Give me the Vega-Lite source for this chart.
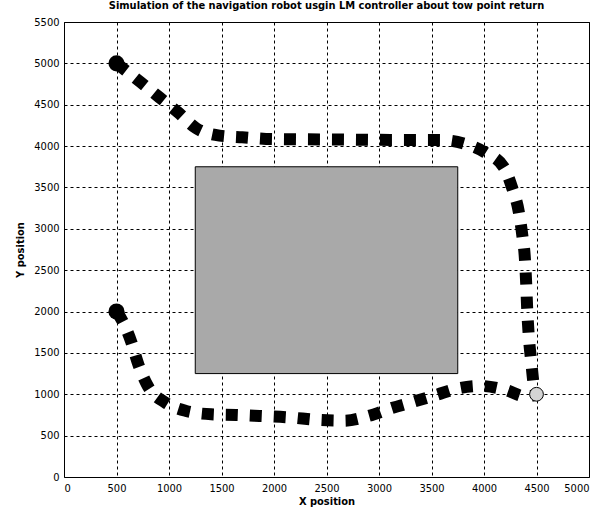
{
  "$schema": "https://vega.github.io/schema/vega-lite/v6.json",
  "width": 525,
  "height": 455,
  "autosize": {"type": "none"},
  "padding": {"left": 64, "top": 22, "right": 18, "bottom": 35},
  "background": "white",
  "title": {
    "text": "Simulation of the navigation robot usgin LM controller about tow point return",
    "font": "Liberation Sans Narrow, DejaVu Sans Condensed, sans-serif",
    "fontSize": 11,
    "fontWeight": "bold",
    "color": "black",
    "offset": 5
  },
  "config": {
    "view": {"stroke": "black", "strokeWidth": 1},
    "axis": {
      "labelFont": "Liberation Sans Narrow, DejaVu Sans Condensed, sans-serif",
      "labelFontSize": 11,
      "labelColor": "black",
      "titleFont": "Liberation Sans Narrow, DejaVu Sans Condensed, sans-serif",
      "titleFontSize": 11,
      "titleFontWeight": "bold",
      "titleColor": "black",
      "domain": false,
      "ticks": false,
      "grid": true,
      "gridColor": "black",
      "gridOpacity": 1,
      "gridDash": [3, 3],
      "gridWidth": 1,
      "labelPadding": 5
    }
  },
  "datasets": {
    "obstacle": [{"x0": 1250, "x1": 3750, "y0": 1250, "y1": 3750}],
    "paths": [
      {"path": "A", "i": 0, "x": 500, "y": 5000},
      {"path": "A", "i": 1, "x": 729, "y": 4773},
      {"path": "A", "i": 2, "x": 910, "y": 4587},
      {"path": "A", "i": 3, "x": 1084, "y": 4410},
      {"path": "A", "i": 4, "x": 1259, "y": 4216},
      {"path": "A", "i": 5, "x": 1481, "y": 4127},
      {"path": "A", "i": 6, "x": 1697, "y": 4107},
      {"path": "A", "i": 7, "x": 1925, "y": 4087},
      {"path": "A", "i": 8, "x": 2157, "y": 4083},
      {"path": "A", "i": 9, "x": 2617, "y": 4080},
      {"path": "A", "i": 10, "x": 3110, "y": 4075},
      {"path": "A", "i": 11, "x": 3576, "y": 4075},
      {"path": "A", "i": 12, "x": 3798, "y": 4035},
      {"path": "A", "i": 13, "x": 4014, "y": 3921},
      {"path": "A", "i": 14, "x": 4189, "y": 3745},
      {"path": "A", "i": 15, "x": 4269, "y": 3491},
      {"path": "A", "i": 16, "x": 4331, "y": 3208},
      {"path": "A", "i": 17, "x": 4365, "y": 2920},
      {"path": "A", "i": 18, "x": 4390, "y": 2630},
      {"path": "A", "i": 19, "x": 4402, "y": 2334},
      {"path": "A", "i": 20, "x": 4411, "y": 2040},
      {"path": "A", "i": 21, "x": 4427, "y": 1697},
      {"path": "A", "i": 22, "x": 4450, "y": 1394},
      {"path": "A", "i": 23, "x": 4474, "y": 1112},
      {"path": "A", "i": 24, "x": 4500, "y": 1000},
      {"path": "B", "i": 0, "x": 500, "y": 2000},
      {"path": "B", "i": 1, "x": 560, "y": 1878},
      {"path": "B", "i": 2, "x": 640, "y": 1636},
      {"path": "B", "i": 3, "x": 710, "y": 1354},
      {"path": "B", "i": 4, "x": 798, "y": 1100},
      {"path": "B", "i": 5, "x": 967, "y": 898},
      {"path": "B", "i": 6, "x": 1163, "y": 798},
      {"path": "B", "i": 7, "x": 1402, "y": 758},
      {"path": "B", "i": 8, "x": 1640, "y": 750},
      {"path": "B", "i": 9, "x": 1862, "y": 738},
      {"path": "B", "i": 10, "x": 2131, "y": 722},
      {"path": "B", "i": 11, "x": 2433, "y": 689},
      {"path": "B", "i": 12, "x": 2671, "y": 681},
      {"path": "B", "i": 13, "x": 2900, "y": 738},
      {"path": "B", "i": 14, "x": 3116, "y": 831},
      {"path": "B", "i": 15, "x": 3331, "y": 911},
      {"path": "B", "i": 16, "x": 3545, "y": 992},
      {"path": "B", "i": 17, "x": 3760, "y": 1073},
      {"path": "B", "i": 18, "x": 3973, "y": 1100},
      {"path": "B", "i": 19, "x": 4205, "y": 1052},
      {"path": "B", "i": 20, "x": 4402, "y": 971},
      {"path": "B", "i": 21, "x": 4500, "y": 1000}
    ],
    "starts": [
      {"x": 500, "y": 5000},
      {"x": 500, "y": 2000}
    ],
    "goal": [{"x": 4500, "y": 1000}]
  },
  "layer": [
    {
      "data": {"name": "obstacle"},
      "mark": {"type": "rect", "fill": "#a9a9a9", "stroke": "black", "strokeWidth": 1},
      "encoding": {
        "x": {"field": "x0", "type": "quantitative",
              "scale": {"domain": [0, 5000], "nice": false},
              "axis": {"values": [0,500,1000,1500,2000,2500,3000,3500,4000,4500,5000], "title": "X position", "titlePadding": 2, "format": "d"}},
        "x2": {"field": "x1"},
        "y": {"field": "y0", "type": "quantitative",
              "scale": {"domain": [0, 5500], "nice": false},
              "axis": {"values": [0,500,1000,1500,2000,2500,3000,3500,4000,4500,5000,5500], "title": "Y position", "titlePadding": 8, "format": "d"}},
        "y2": {"field": "y1"}
      }
    },
    {
      "data": {"name": "paths"},
      "mark": {"type": "line", "color": "black", "strokeWidth": 12, "strokeDash": [12, 12], "strokeCap": "butt", "interpolate": "monotone"},
      "encoding": {
        "x": {"field": "x", "type": "quantitative"},
        "y": {"field": "y", "type": "quantitative"},
        "detail": {"field": "path"},
        "order": {"field": "i", "type": "quantitative"}
      }
    },
    {
      "data": {"name": "starts"},
      "mark": {"type": "point", "shape": "circle", "filled": true, "color": "black", "size": 260, "opacity": 1},
      "encoding": {
        "x": {"field": "x", "type": "quantitative"},
        "y": {"field": "y", "type": "quantitative"}
      }
    },
    {
      "data": {"name": "goal"},
      "mark": {"type": "point", "shape": "circle", "filled": true, "fill": "#d4d4d4", "stroke": "black", "strokeWidth": 1, "size": 190, "opacity": 1},
      "encoding": {
        "x": {"field": "x", "type": "quantitative"},
        "y": {"field": "y", "type": "quantitative"}
      }
    }
  ]
}
